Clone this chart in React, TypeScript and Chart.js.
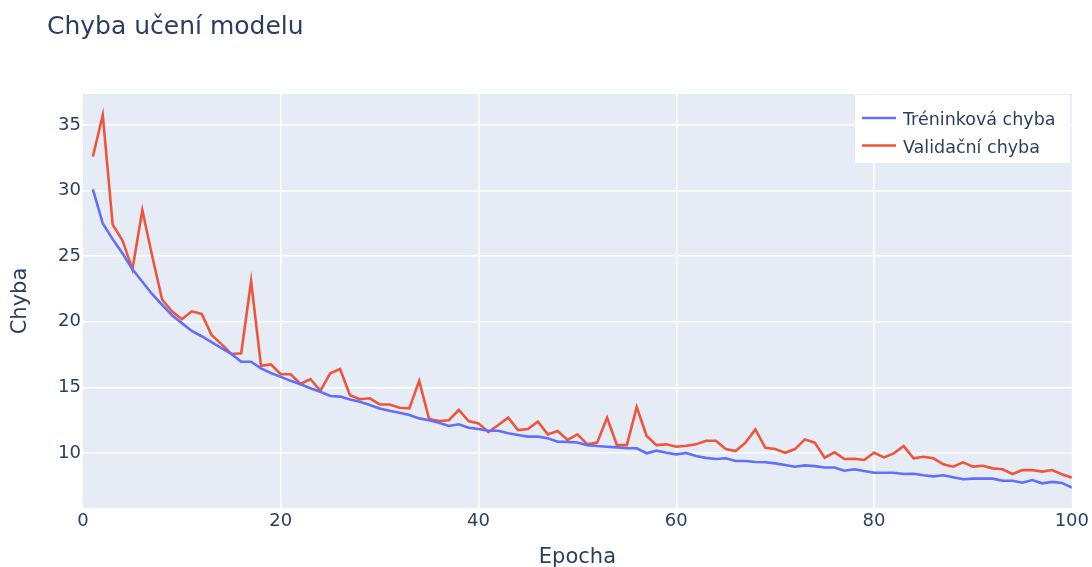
import React, { useEffect, useRef } from "react";
import { Chart, registerables } from "chart.js";

Chart.register(...registerables);

const TITLE = "Chyba učení modelu";
const X_TITLE = "Epocha";
const Y_TITLE = "Chyba";
const SERIES_NAMES = ["Tréninková chyba", "Validační chyba"];
const SERIES_COLORS = ["#636efa", "#EF553B"];

const epochs: number[] = Array.from({ length: 100 }, (_, i) => i + 1);

const trainLoss: number[] = [
  30.1, 27.5, 26.3, 25.2, 24.0, 23.05, 22.1, 21.3, 20.5, 19.9,
  19.3, 18.9, 18.45, 18.0, 17.55, 16.96, 16.96, 16.45, 16.1, 15.8,
  15.5, 15.24, 14.93, 14.67, 14.35, 14.3, 14.08, 13.9, 13.66, 13.4,
  13.22, 13.07, 12.9, 12.64, 12.5, 12.3, 12.06, 12.19, 11.93, 11.83,
  11.7, 11.7, 11.5, 11.37, 11.25, 11.25, 11.12, 10.86, 10.85, 10.8,
  10.6, 10.53, 10.48, 10.43, 10.36, 10.36, 9.98, 10.18, 10.02, 9.9,
  10.0, 9.77, 9.63, 9.55, 9.6, 9.39, 9.39, 9.31, 9.3, 9.21,
  9.08, 8.96, 9.06, 9.0, 8.9, 8.9, 8.65, 8.76, 8.63, 8.5,
  8.5, 8.5, 8.4, 8.42, 8.3, 8.22, 8.3, 8.15, 8.0, 8.05,
  8.05, 8.05, 7.89, 7.89, 7.74, 7.94, 7.69, 7.8, 7.72, 7.36,
];

const valLoss: number[] = [
  32.6, 35.76, 27.4, 26.2, 24.0, 28.5, 25.0, 21.7, 20.8, 20.2,
  20.8, 20.6, 19.0, 18.3, 17.55, 17.6, 23.1, 16.65, 16.75, 16.0,
  16.0, 15.26, 15.64, 14.73, 16.07, 16.4, 14.4, 14.1, 14.17, 13.7,
  13.7, 13.45, 13.4, 15.5, 12.6, 12.44, 12.5, 13.28, 12.44, 12.26,
  11.6, 12.13, 12.7, 11.75, 11.83, 12.4, 11.42, 11.68, 11.0, 11.42,
  10.66, 10.8, 12.7, 10.6, 10.6, 13.5, 11.3, 10.6, 10.66, 10.48,
  10.55, 10.66, 10.94, 10.94, 10.3, 10.15, 10.79, 11.8, 10.4, 10.3,
  10.02, 10.3, 11.04, 10.79, 9.64, 10.05, 9.54, 9.56, 9.47, 10.02,
  9.67, 9.97, 10.53, 9.6, 9.72, 9.6, 9.14, 8.96, 9.29, 8.96,
  9.03, 8.83, 8.76, 8.4, 8.7, 8.7, 8.58, 8.7, 8.38, 8.12,
];

const X_RANGE = [0, 100];
const Y_RANGE = [5.81, 37.36];
const X_STEP = 20;
const Y_STEP = 5;

const TEXT_COLOR = "#2a3f5f";
const FONT = "'DejaVu Sans', Verdana, sans-serif";

const overlayPlugin = {
  id: "overlay",
  afterDraw(chart: any) {
    const ctx = chart.ctx;
    const area = chart.chartArea;
    ctx.save();
    // Title
    ctx.fillStyle = TEXT_COLOR;
    ctx.font = `25px ${FONT}`;
    ctx.textAlign = "left";
    ctx.textBaseline = "alphabetic";
    ctx.fillText(TITLE, 47, 34);

    // X axis title
    ctx.font = `21px ${FONT}`;
    ctx.textAlign = "center";
    ctx.textBaseline = "alphabetic";
    ctx.fillText(X_TITLE, (area.left + area.right) / 2, 563);

    // Y axis title
    ctx.save();
    ctx.translate(26, (area.top + area.bottom) / 2);
    ctx.rotate(-Math.PI / 2);
    ctx.fillText(Y_TITLE, 0, 0);
    ctx.restore();

    // Legend
    const lx = 855;
    const ly = 95;
    const lw = 215;
    const lh = 68;
    ctx.fillStyle = "#ffffff";
    ctx.fillRect(lx, ly, lw, lh);
    ctx.font = `17.5px ${FONT}`;
    ctx.textAlign = "left";
    ctx.textBaseline = "alphabetic";
    chart.data.datasets.forEach((ds: any, i: number) => {
      const y = ly + 23 + i * 27.5;
      ctx.strokeStyle = ds.borderColor;
      ctx.lineWidth = 2.6;
      ctx.beginPath();
      ctx.moveTo(lx + 7, y);
      ctx.lineTo(lx + 41, y);
      ctx.stroke();
      ctx.fillStyle = TEXT_COLOR;
      ctx.fillText(ds.label, lx + 48, y + 7);
    });
    ctx.restore();
  },
};

const bgPlugin = {
  id: "plotBg",
  beforeDraw(chart: any) {
    const ctx = chart.ctx;
    const a = chart.chartArea;
    ctx.save();
    ctx.fillStyle = "#ffffff";
    ctx.fillRect(0, 0, chart.width, chart.height);
    ctx.fillStyle = "#E5ECF6";
    ctx.fillRect(a.left, a.top, a.right - a.left, a.bottom - a.top);
    ctx.restore();
  },
};

export default function App() {
  const ref = useRef<HTMLCanvasElement | null>(null);

  useEffect(() => {
    document.body.style.margin = "0";
    const canvas = ref.current;
    if (!canvas) return;
    const chart = new Chart(canvas, {
      type: "line",
      data: {
        datasets: [
          {
            label: SERIES_NAMES[0],
            data: epochs.map((e, i) => ({ x: e, y: trainLoss[i] })),
            borderColor: SERIES_COLORS[0],
            backgroundColor: SERIES_COLORS[0],
            borderWidth: 2.6,
            pointRadius: 0,
            tension: 0,
          },
          {
            label: SERIES_NAMES[1],
            data: epochs.map((e, i) => ({ x: e, y: valLoss[i] })),
            borderColor: SERIES_COLORS[1],
            backgroundColor: SERIES_COLORS[1],
            borderWidth: 2.6,
            pointRadius: 0,
            tension: 0,
          },
        ],
      },
      options: {
        animation: false,
        responsive: false,
        devicePixelRatio: 1,
        layout: { padding: { top: 94, right: 19, left: 0, bottom: 0 } },
        plugins: {
          legend: { display: false },
          title: { display: false },
          tooltip: { enabled: false },
        },
        scales: {
          x: {
            type: "linear",
            min: X_RANGE[0],
            max: X_RANGE[1],
            border: { display: false },
            grid: {
              color: (c: any) =>
                c.tick && (c.tick.value === X_RANGE[0] || c.tick.value === X_RANGE[1])
                  ? "rgba(0,0,0,0)"
                  : "#ffffff",
              lineWidth: 1.5,
              drawTicks: false,
            },
            ticks: {
              stepSize: X_STEP,
              color: TEXT_COLOR,
              font: { family: FONT, size: 18 },
              padding: 3,
              maxRotation: 0,
            },
            afterFit: (s: any) => {
              s.height = 59;
            },
          },
          y: {
            type: "linear",
            min: Y_RANGE[0],
            max: Y_RANGE[1],
            border: { display: false },
            grid: { color: "#ffffff", lineWidth: 1.5, drawTicks: false },
            ticks: {
              stepSize: Y_STEP,
              color: TEXT_COLOR,
              font: { family: FONT, size: 18 },
              padding: 2,
            },
            afterBuildTicks: (s: any) => {
              s.ticks = s.ticks.filter(
                (t: any) => Math.abs(t.value / Y_STEP - Math.round(t.value / Y_STEP)) < 1e-6
              );
            },
            afterFit: (s: any) => {
              s.width = 83;
            },
          },
        },
      },
      plugins: [bgPlugin, overlayPlugin],
    });
    return () => chart.destroy();
  }, []);

  return <canvas ref={ref} width={1092} height={567} style={{ display: "block" }} />;
}
